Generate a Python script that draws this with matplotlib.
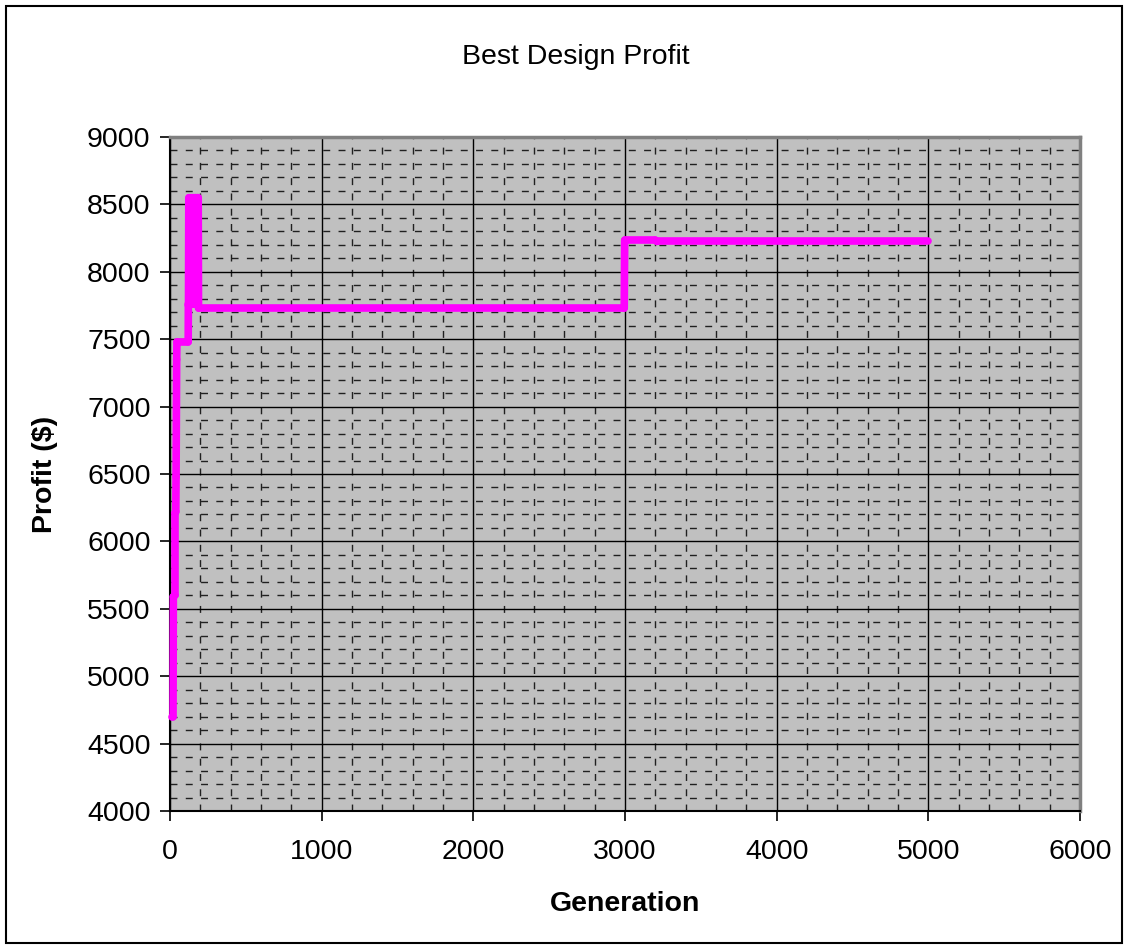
import matplotlib
matplotlib.use("Agg")
import matplotlib.pyplot as plt
from matplotlib.patches import Rectangle
from matplotlib.collections import LineCollection
from matplotlib.ticker import MultipleLocator

plt.rcParams['font.family'] = ['Liberation Sans', 'DejaVu Sans']

# Best profit found so far at each recorded generation
generation = [15, 20, 22, 33, 33, 38, 40, 44, 46, 120, 121, 122, 124, 128, 130,
              134, 136, 140, 142, 146, 148, 152, 154, 158, 160, 164, 166, 170,
              172, 176, 178, 182, 184, 186, 188,
              2995, 2998, 3200, 3210, 5000]
profit = [4700, 4700, 5590, 5600, 6210, 6220, 6480, 7350, 7480, 7480, 7760, 7750,
          8550, 8550, 7760, 7760, 8550, 8550, 7760, 7760, 8550, 8550, 7760, 7760,
          8550, 8550, 7760, 7760, 8550, 8550, 7760, 7760, 8550, 8550, 7730,
          7730, 8235, 8235, 8225, 8225]

title = "Best Design Profit"
x_label = "Generation"
y_label = "Profit ($)"

W, H = 1128, 949
fig = plt.figure(figsize=(W / 100, H / 100), dpi=100)
fig.patch.set_facecolor("white")

ax = fig.add_axes([170 / W, 1 - 811 / H, 910 / W, 674 / H])
ax.set_facecolor("#c0c0c0")

ax.set_xlim(0, 6000)
ax.set_ylim(4000, 9000)
ax.xaxis.set_major_locator(MultipleLocator(1000))
ax.xaxis.set_minor_locator(MultipleLocator(200))
ax.yaxis.set_major_locator(MultipleLocator(500))
ax.yaxis.set_minor_locator(MultipleLocator(100))

ax.grid(which="major", color="black", linewidth=1.0, linestyle="-")
ax.grid(which="minor", color="#202020", linewidth=1.0, linestyle=(0, (5, 6)))
ax.set_axisbelow(True)

ax.tick_params(which="major", direction="out", length=7, width=1.2,
               labelsize=20.5, color="black", pad=7)
ax.tick_params(axis="x", which="major", pad=13)
ax.tick_params(which="minor", length=0)

for side in ("left", "bottom"):
    ax.spines[side].set_color("black")
    ax.spines[side].set_linewidth(1.5)
for side in ("top", "right"):
    ax.spines[side].set_color("#808080")
    ax.spines[side].set_linewidth(2.5)

# Each step drawn as its own segment so back-and-forth strokes stay solid
points = list(zip(generation, profit))
segments = [[points[i], points[i + 1]] for i in range(len(points) - 1)]
lc = LineCollection(segments, colors="#ff00ff", linewidths=5.5,
                    capstyle="round", joinstyle="round", zorder=3)
lc.set_clip_on(False)
ax.add_collection(lc)

fig.text(576 / W, 1 - 57 / H, title, ha="center", va="center", fontsize=20.5)
fig.text(625 / W, 1 - 904 / H, x_label, ha="center", va="center",
         fontsize=20.5, fontweight="bold")
fig.text(45 / W, 1 - 474 / H, y_label, ha="center", va="center",
         fontsize=20.5, fontweight="bold", rotation=90)

# Chart-area frame
fig.patches.append(Rectangle((6 / W, 6 / H), 1 - 12 / W, 1 - 12 / H,
                             transform=fig.transFigure, fill=False,
                             edgecolor="black", linewidth=1.5))

fig.savefig("out.png", dpi=100)
